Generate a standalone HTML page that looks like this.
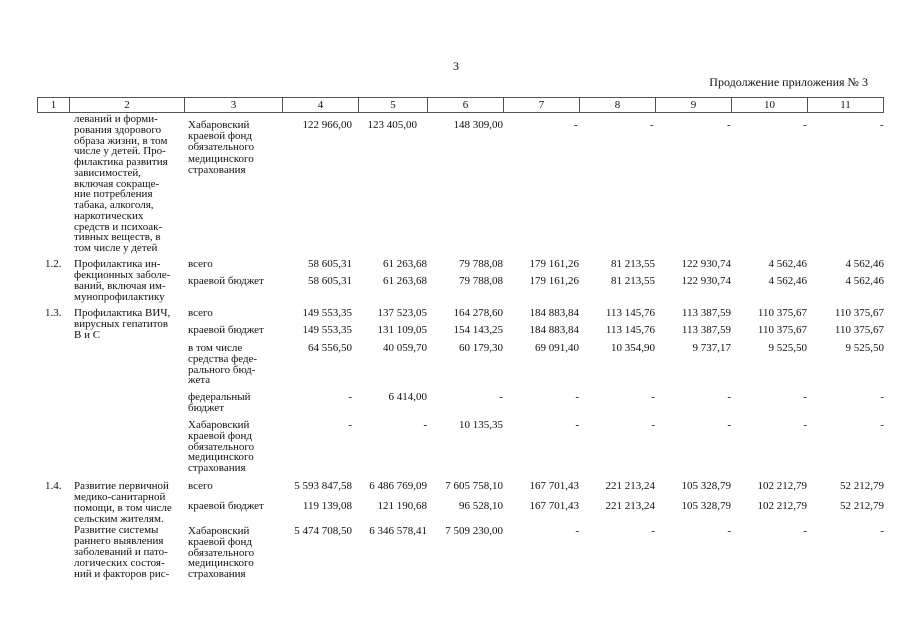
<!DOCTYPE html>
<html><head><meta charset="utf-8"><style>
body{margin:0;background:#fff;width:905px;height:640px;position:relative;overflow:hidden;font-family:"Liberation Serif",serif;color:#111;font-size:11px}
div{position:absolute;white-space:nowrap;line-height:11.2px}
.r{text-align:right}
.h{top:97px;height:16px;border:1px solid #555;border-right:none;box-sizing:border-box;text-align:center;line-height:14px}
</style></head><body>
<div style="left:453px;top:61px;font-size:12px">3</div>
<div style="right:37px;top:77px;font-size:12px">Продолжение приложения № 3</div>

<div class="h" style="left:37px;width:32px">1</div>
<div class="h" style="left:69px;width:115px">2</div>
<div class="h" style="left:184px;width:98px">3</div>
<div class="h" style="left:282px;width:76px">4</div>
<div class="h" style="left:358px;width:69px">5</div>
<div class="h" style="left:427px;width:76px">6</div>
<div class="h" style="left:503px;width:76px">7</div>
<div class="h" style="left:579px;width:76px">8</div>
<div class="h" style="left:655px;width:76px">9</div>
<div class="h" style="left:731px;width:76px">10</div>
<div class="h" style="left:807px;width:77px;border-right:1px solid #555">11</div>

<!-- row 1 -->
<div style="left:74px;top:114px;line-height:10.75px">леваний и форми-<br>рования здорового<br>образа жизни, в том<br>числе у детей. Про-<br>филактика развития<br>зависимостей,<br>включая сокращe-<br>ние потребления<br>табака, алкоголя,<br>наркотических<br>средств и психоак-<br>тивных веществ, в<br>том числе у детей</div>
<div style="left:188px;top:120px;line-height:11.2px">Хабаровский<br>краевой фонд<br>обязательного<br>медицинского<br>страхования</div>
<div class="r" style="right:553px;top:120px">122 966,00</div>
<div class="r" style="right:488px;top:120px">123 405,00</div>
<div class="r" style="right:402px;top:120px">148 309,00</div>
<div style="left:574px;top:120px">-</div><div style="left:650px;top:120px">-</div><div style="left:727px;top:120px">-</div><div style="left:803px;top:120px">-</div><div style="left:880px;top:120px">-</div>

<!-- 1.2 -->
<div style="left:45px;top:259px">1.2.</div>
<div style="left:74px;top:259px;line-height:11px">Профилактика ин-<br>фекционных заболе-<br>ваний, включая им-<br>мунопрофилактику</div>
<div style="left:188px;top:259px">всего</div>
<div style="left:188px;top:276px">краевой бюджет</div>
<div class="r" style="right:553px;top:259px">58 605,31</div>
<div class="r" style="right:553px;top:276px">58 605,31</div>
<div class="r" style="right:478px;top:259px">61 263,68</div><div class="r" style="right:478px;top:276px">61 263,68</div>
<div class="r" style="right:402px;top:259px">79 788,08</div><div class="r" style="right:402px;top:276px">79 788,08</div>
<div class="r" style="right:326px;top:259px">179 161,26</div><div class="r" style="right:326px;top:276px">179 161,26</div>
<div class="r" style="right:250px;top:259px">81 213,55</div><div class="r" style="right:250px;top:276px">81 213,55</div>
<div class="r" style="right:174px;top:259px">122 930,74</div><div class="r" style="right:174px;top:276px">122 930,74</div>
<div class="r" style="right:98px;top:259px">4 562,46</div><div class="r" style="right:98px;top:276px">4 562,46</div>
<div class="r" style="right:21px;top:259px">4 562,46</div><div class="r" style="right:21px;top:276px">4 562,46</div>

<!-- 1.3 -->
<div style="left:45px;top:308px">1.3.</div>
<div style="left:74px;top:308px;line-height:11px">Профилактика ВИЧ,<br>вирусных гепатитов<br>В и С</div>
<div style="left:188px;top:308px">всего</div>
<div style="left:188px;top:325px">краевой бюджет</div>
<div style="left:188px;top:343px;line-height:10.8px">в том числе<br>средства феде-<br>рального бюд-<br>жета</div>
<div style="left:188px;top:392px;line-height:11px">федеральный<br>бюджет</div>
<div style="left:188px;top:420px;line-height:10.8px">Хабаровский<br>краевой фонд<br>обязательного<br>медицинского<br>страхования</div>
<div class="r" style="right:553px;top:308px">149 553,35</div><div class="r" style="right:553px;top:325px">149 553,35</div><div class="r" style="right:553px;top:343px">64 556,50</div><div class="r" style="right:553px;top:392px">-</div><div class="r" style="right:553px;top:420px">-</div>
<div class="r" style="right:478px;top:308px">137 523,05</div><div class="r" style="right:478px;top:325px">131 109,05</div><div class="r" style="right:478px;top:343px">40 059,70</div><div class="r" style="right:478px;top:392px">6 414,00</div><div class="r" style="right:478px;top:420px">-</div>
<div class="r" style="right:402px;top:308px">164 278,60</div><div class="r" style="right:402px;top:325px">154 143,25</div><div class="r" style="right:402px;top:343px">60 179,30</div><div class="r" style="right:402px;top:392px">-</div><div class="r" style="right:402px;top:420px">10 135,35</div>
<div class="r" style="right:326px;top:308px">184 883,84</div><div class="r" style="right:326px;top:325px">184 883,84</div><div class="r" style="right:326px;top:343px">69 091,40</div><div class="r" style="right:326px;top:392px">-</div><div class="r" style="right:326px;top:420px">-</div>
<div class="r" style="right:250px;top:308px">113 145,76</div><div class="r" style="right:250px;top:325px">113 145,76</div><div class="r" style="right:250px;top:343px">10 354,90</div><div class="r" style="right:250px;top:392px">-</div><div class="r" style="right:250px;top:420px">-</div>
<div class="r" style="right:174px;top:308px">113 387,59</div><div class="r" style="right:174px;top:325px">113 387,59</div><div class="r" style="right:174px;top:343px">9 737,17</div><div class="r" style="right:174px;top:392px">-</div><div class="r" style="right:174px;top:420px">-</div>
<div class="r" style="right:98px;top:308px">110 375,67</div><div class="r" style="right:98px;top:325px">110 375,67</div><div class="r" style="right:98px;top:343px">9 525,50</div><div class="r" style="right:98px;top:392px">-</div><div class="r" style="right:98px;top:420px">-</div>
<div class="r" style="right:21px;top:308px">110 375,67</div><div class="r" style="right:21px;top:325px">110 375,67</div><div class="r" style="right:21px;top:343px">9 525,50</div><div class="r" style="right:21px;top:392px">-</div><div class="r" style="right:21px;top:420px">-</div>

<!-- 1.4 -->
<div style="left:45px;top:481px">1.4.</div>
<div style="left:74px;top:481px;line-height:11px">Развитие первичной<br>медико-санитарной<br>помощи, в том числе<br>сельским жителям.<br>Развитие системы<br>раннего выявления<br>заболеваний и пато-<br>логических состоя-<br>ний и факторов рис-</div>
<div style="left:188px;top:481px">всего</div>
<div style="left:188px;top:501px">краевой бюджет</div>
<div style="left:188px;top:526px;line-height:10.8px">Хабаровский<br>краевой фонд<br>обязательного<br>медицинского<br>страхования</div>
<div class="r" style="right:553px;top:481px">5 593 847,58</div><div class="r" style="right:553px;top:501px">119 139,08</div><div class="r" style="right:553px;top:526px">5 474 708,50</div>
<div class="r" style="right:478px;top:481px">6 486 769,09</div><div class="r" style="right:478px;top:501px">121 190,68</div><div class="r" style="right:478px;top:526px">6 346 578,41</div>
<div class="r" style="right:402px;top:481px">7 605 758,10</div><div class="r" style="right:402px;top:501px">96 528,10</div><div class="r" style="right:402px;top:526px">7 509 230,00</div>
<div class="r" style="right:326px;top:481px">167 701,43</div><div class="r" style="right:326px;top:501px">167 701,43</div><div class="r" style="right:326px;top:526px">-</div>
<div class="r" style="right:250px;top:481px">221 213,24</div><div class="r" style="right:250px;top:501px">221 213,24</div><div class="r" style="right:250px;top:526px">-</div>
<div class="r" style="right:174px;top:481px">105 328,79</div><div class="r" style="right:174px;top:501px">105 328,79</div><div class="r" style="right:174px;top:526px">-</div>
<div class="r" style="right:98px;top:481px">102 212,79</div><div class="r" style="right:98px;top:501px">102 212,79</div><div class="r" style="right:98px;top:526px">-</div>
<div class="r" style="right:21px;top:481px">52 212,79</div><div class="r" style="right:21px;top:501px">52 212,79</div><div class="r" style="right:21px;top:526px">-</div>
</body></html>
